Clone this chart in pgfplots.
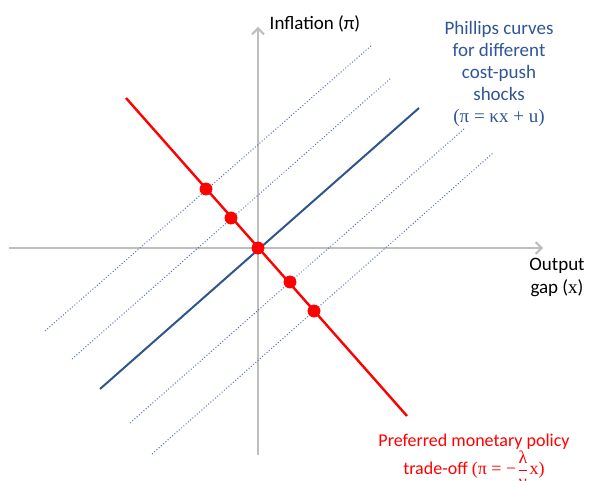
\documentclass[border=0pt]{standalone}
\usepackage{amsmath}
\usepackage{fontspec}
\setmainfont{Carlito}
\newfontfamily\eqf{Liberation Serif}
\usepackage{pgfplots}
\pgfplotsset{compat=1.18}
\usetikzlibrary{arrows.meta}

\definecolor{pcblue}{RGB}{47,85,140}
\definecolor{dotblue}{RGB}{80,115,175}
\definecolor{txtblue}{RGB}{47,85,151}
\definecolor{axgray}{RGB}{190,190,190}

\begin{document}
\begin{tikzpicture}
\useasboundingbox (0,0) rectangle (294.5pt,240.5pt);
\begin{axis}[
    at={(0,0)}, anchor=south west,
    width=294.5pt, height=240.5pt,
    scale only axis,
    hide axis,
    clip=false,
    xmin=-258, xmax=331,
    ymin=-233, ymax=248,
]
% axes
\addplot[axgray, line width=1pt, -{Straight Barb[length=3pt,width=6pt]}]
    coordinates {(-249,0) (285,0)};
\addplot[axgray, line width=1pt, -{Straight Barb[length=3pt,width=6pt]}]
    coordinates {(0,-207) (0,221)};
% shifted Phillips curves
\addplot[dotblue, line width=0.5pt, densely dotted] coordinates {(-213,-83) (114,203)};
\addplot[dotblue, line width=0.5pt, densely dotted] coordinates {(-186,-111) (133,170)};
\addplot[dotblue, line width=0.5pt, densely dotted] coordinates {(-128,-175) (207,120)};
\addplot[dotblue, line width=0.5pt, densely dotted] coordinates {(-106,-206) (235,95)};
% baseline Phillips curve
\addplot[pcblue, line width=1pt] coordinates {(-158,-141) (161,140)};
% policy trade-off
\addplot[red, line width=1.2pt] coordinates {(-132,150) (149,-168)};
\addplot[only marks, mark=*, mark size=3pt, red] coordinates {
    (-52,59) (-27,30) (0,0) (32,-34) (56,-63)};

\node[anchor=center, font=\fontsize{9.5}{11}\selectfont] at (axis cs:57,224) {Inflation (π)};
\node[anchor=center, align=center, font=\fontsize{9.5}{11.5}\selectfont] at (axis cs:299,-29) {Output\\gap ({\eqf x})};
\node[anchor=center, align=center, text=txtblue, font=\fontsize{9.5}{11}\selectfont] at (axis cs:241,174)
    {Phillips curves\\for different\\cost-push\\shocks\\{\eqf (π = κx + u)}};
\node[anchor=center, text=red, font=\fontsize{9}{11}\selectfont] at (axis cs:216,-194) {Preferred monetary policy};
\node[anchor=base, text=red, font=\fontsize{9}{11}\selectfont] at (axis cs:216,-227)
    {trade-off {\eqf (π = −$\dfrac{\text{\eqf λ}}{\text{\eqf γ}}$x)}};
\end{axis}
\end{tikzpicture}
\end{document}
